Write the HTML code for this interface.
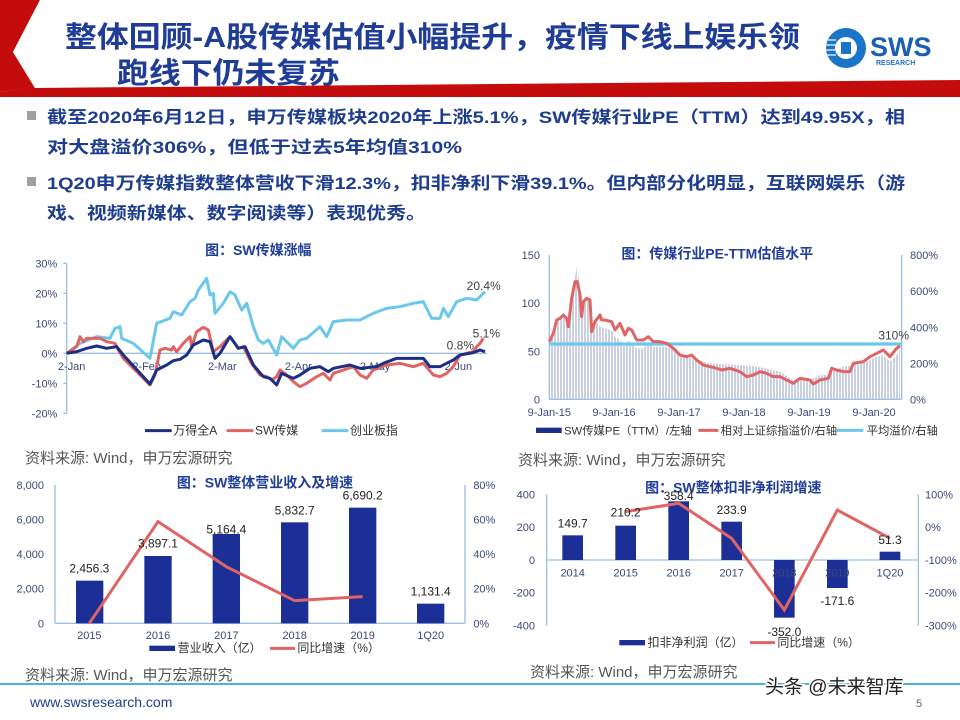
<!DOCTYPE html>
<html><head><meta charset="utf-8"><style>
html,body{margin:0;padding:0;background:#fff;}
svg{display:block;font-family:"Liberation Sans","Noto Sans CJK SC",sans-serif;}
</style></head><body>
<svg width="960" height="720" viewBox="0 0 960 720" xmlns="http://www.w3.org/2000/svg">
<defs>
<pattern id="bars" width="9" height="10" patternUnits="userSpaceOnUse"><rect x="0" y="0" width="6" height="10" fill="#c9d0e2"/></pattern>
</defs>
<!-- header -->
<polygon points="0,0 40,0 13,52 35,88 0,92" fill="#c40c0c"/>
<polygon points="33,88 960,80 960,97 0,97 0,92" fill="#c40c0c"/>
<polygon points="40,0 44,0 17,52 39,88 35,88 13,52" fill="#fff"/>
<text x="65" y="47" font-size="29" font-weight="bold" fill="#1f3c96" textLength="735" lengthAdjust="spacingAndGlyphs">整体回顾-A股传媒估值小幅提升，疫情下线上娱乐领</text>
<text x="117" y="83" font-size="29" font-weight="bold" fill="#1f3c96" textLength="223" lengthAdjust="spacingAndGlyphs">跑线下仍未复苏</text>
<!-- logo -->
<circle cx="846" cy="48" r="20" fill="#1a74c8"/>
<circle cx="846" cy="48" r="11" fill="#fff"/>
<g stroke="#fff" stroke-width="1.2"><line x1="826" y1="40" x2="836" y2="40"/><line x1="826" y1="45" x2="836" y2="45"/><line x1="826" y1="50" x2="836" y2="50"/><line x1="826" y1="55" x2="836" y2="55"/></g>
<rect x="841" y="42" width="10" height="12" fill="#1a74c8"/>
<text x="870" y="56" font-size="27" font-weight="bold" fill="#1a5fb4">SWS</text>
<text x="876" y="65" font-size="7" font-weight="bold" fill="#1a74c8">RESEARCH</text>
<!-- bullets -->
<rect x="27" y="111" width="9" height="9" fill="#a0a0a0"/>
<rect x="27" y="177" width="9" height="9" fill="#a0a0a0"/>
<g font-size="17" font-weight="bold" fill="#1f3d8f">
<text x="47" y="123" textLength="858" lengthAdjust="spacingAndGlyphs">截至2020年6月12日，申万传媒板块2020年上涨5.1%，SW传媒行业PE（TTM）达到49.95X，相</text>
<text x="47" y="153" textLength="415" lengthAdjust="spacingAndGlyphs">对大盘溢价306%，但低于过去5年均值310%</text>
<text x="47" y="189" textLength="858" lengthAdjust="spacingAndGlyphs">1Q20申万传媒指数整体营收下滑12.3%，扣非净利下滑39.1%。但内部分化明显，互联网娱乐（游</text>
<text x="47" y="219" textLength="379" lengthAdjust="spacingAndGlyphs">戏、视频新媒体、数字阅读等）表现优秀。</text>
</g>

<!-- chart 1 -->
<g transform="translate(0,240) scale(0.33333)" font-size="33" fill="#3a4a78">
<text x="775" y="45" font-size="42" font-weight="bold" fill="#1f3d99" text-anchor="middle">图：SW传媒涨幅</text>
<line x1="200" y1="70" x2="200" y2="520" stroke="#9cc0e0" stroke-width="4"/>
<g stroke="#9cc0e0" stroke-width="4"><line x1="190" y1="70" x2="200" y2="70"/><line x1="190" y1="160" x2="200" y2="160"/><line x1="190" y1="250" x2="200" y2="250"/><line x1="190" y1="340" x2="200" y2="340"/><line x1="190" y1="430" x2="200" y2="430"/><line x1="190" y1="520" x2="200" y2="520"/></g>
<line x1="200" y1="340" x2="1460" y2="340" stroke="#9cc0e0" stroke-width="4"/>
<g text-anchor="end"><text x="172" y="82">30%</text><text x="172" y="172">20%</text><text x="172" y="262">10%</text><text x="172" y="352">0%</text><text x="172" y="442">-10%</text><text x="172" y="532">-20%</text></g>
<g text-anchor="middle"><text x="215" y="390">2-Jan</text><text x="440" y="390">2-Feb</text><text x="667" y="390">2-Mar</text><text x="895" y="390">2-Apr</text><text x="1125" y="390">2-May</text><text x="1375" y="390">2-Jun</text></g>
<polyline fill="none" stroke="#6cc8ea" stroke-width="9" stroke-linejoin="round" points="200,340 240,310 290,290 330,295 345,265 360,260 365,295 400,310 450,355 470,250 510,235 520,215 545,225 570,185 585,175 595,150 620,115 630,165 640,160 645,220 670,190 690,155 705,165 725,210 740,190 760,260 775,300 790,310 805,300 830,345 845,290 880,325 900,300 920,295 960,260 980,290 1000,245 1040,240 1080,240 1120,220 1160,205 1200,200 1240,190 1270,185 1295,235 1320,235 1330,205 1345,230 1370,185 1400,175 1430,180 1450,160 1455,155"/>
<polyline fill="none" stroke="#e06464" stroke-width="9" stroke-linejoin="round" points="200,340 230,320 240,290 250,305 260,295 300,295 320,305 345,310 355,330 370,355 450,435 465,405 480,330 495,325 515,330 520,320 530,335 550,310 570,290 575,320 590,275 610,262 625,270 640,335 660,320 690,290 715,325 730,320 755,370 780,405 800,410 815,420 830,410 840,390 860,405 880,425 900,440 920,430 950,410 970,400 990,420 1000,400 1030,390 1060,380 1080,405 1100,415 1120,390 1160,375 1200,370 1240,380 1270,370 1300,405 1320,410 1340,400 1360,380 1380,345 1400,340 1420,335 1430,320 1440,310 1450,295"/>
<polyline fill="none" stroke="#1c2f86" stroke-width="9" stroke-linejoin="round" points="200,340 230,335 245,330 260,325 290,318 320,325 350,320 370,345 450,432 470,390 500,375 520,362 540,358 560,345 580,315 610,300 630,305 645,355 660,340 690,290 715,325 735,320 760,375 790,410 810,415 830,435 845,400 880,415 900,405 930,385 960,380 985,395 1000,385 1050,375 1080,385 1130,380 1150,370 1190,355 1230,355 1270,355 1290,380 1320,380 1340,370 1360,360 1380,345 1420,338 1440,330 1455,335"/>
<text x="1400" y="150" font-size="36" fill="#404040">20.4%</text>
<text x="1418" y="292" font-size="36" fill="#404040">5.1%</text>
<text x="1340" y="328" font-size="36" fill="#404040">0.8%</text>
<line x1="435" y1="572" x2="515" y2="572" stroke="#1c2f86" stroke-width="9"/><text x="520" y="584" font-size="36" fill="#333">万得全A</text>
<line x1="680" y1="572" x2="760" y2="572" stroke="#e06464" stroke-width="9"/><text x="765" y="584" font-size="36" fill="#333">SW传媒</text>
<line x1="965" y1="572" x2="1045" y2="572" stroke="#6cc8ea" stroke-width="9"/><text x="1050" y="584" font-size="36" fill="#333">创业板指</text>
</g>
<text x="25" y="463" font-size="15" fill="#555">资料来源: Wind，申万宏源研究</text>

<!-- chart 2 -->
<g transform="translate(500,240) scale(0.33333)" font-size="33" fill="#3a4a78">
<text x="652" y="55" font-size="42" font-weight="bold" fill="#1f3d99" text-anchor="middle">图：传媒行业PE-TTM估值水平</text>
<polygon fill="url(#bars)" points="150,478 150,300 160,270 170,250 190,230 200,230 205,245 215,160 225,110 232,75 240,150 245,220 250,180 260,170 270,180 275,250 285,240 300,260 315,265 335,270 345,290 360,300 375,315 385,300 410,325 430,325 445,310 460,320 500,320 520,330 540,345 560,350 590,360 630,370 665,372 720,375 760,378 800,385 840,395 880,420 930,420 960,405 985,405 1000,390 1030,380 1060,375 1090,370 1130,350 1150,345 1170,365 1190,345 1200,330 1200,478"/>
<line x1="148" y1="45" x2="148" y2="478" stroke="#9cc0e0" stroke-width="4"/>
<line x1="1205" y1="45" x2="1205" y2="478" stroke="#9cc0e0" stroke-width="4"/>
<line x1="148" y1="478" x2="1205" y2="478" stroke="#9cc0e0" stroke-width="4"/>
<g text-anchor="end"><text x="120" y="57">150</text><text x="120" y="201">100</text><text x="120" y="346">50</text><text x="120" y="490">0</text></g>
<g><text x="1230" y="57">800%</text><text x="1230" y="165">600%</text><text x="1230" y="274">400%</text><text x="1230" y="382">200%</text><text x="1230" y="490">0%</text></g>
<g text-anchor="middle"><text x="148" y="528">9-Jan-15</text><text x="342" y="528">9-Jan-16</text><text x="537" y="528">9-Jan-17</text><text x="732" y="528">9-Jan-18</text><text x="927" y="528">9-Jan-19</text><text x="1122" y="528">9-Jan-20</text></g>
<line x1="148" y1="312" x2="1205" y2="312" stroke="#6cc8ea" stroke-width="10"/>
<polyline fill="none" stroke="#e06464" stroke-width="9" stroke-linejoin="round" points="148,305 160,280 170,240 180,235 190,225 200,235 205,260 215,175 225,125 232,125 240,165 245,230 250,185 260,175 270,180 275,275 285,245 300,225 305,240 315,240 335,245 345,270 360,250 375,285 385,265 395,270 410,300 430,300 445,290 460,305 480,305 500,310 520,325 540,345 560,350 575,345 590,360 610,375 630,380 650,385 665,390 690,385 720,395 740,410 760,405 780,395 800,400 820,410 840,410 860,420 880,430 900,415 930,420 940,432 960,420 985,415 995,385 1010,390 1030,395 1050,395 1060,370 1090,365 1110,350 1130,340 1150,330 1170,350 1190,325 1200,318"/>
<text x="1135" y="298" font-size="36" fill="#404040">310%</text>
<rect x="108" y="563" width="77" height="16" fill="#1c2f86"/><text x="192" y="583" font-size="34" fill="#333">SW传媒PE（TTM）/左轴</text>
<line x1="595" y1="571" x2="655" y2="571" stroke="#e06464" stroke-width="9"/><text x="662" y="583" font-size="34" fill="#333">相对上证综指溢价/右轴</text>
<line x1="1010" y1="571" x2="1090" y2="571" stroke="#6cc8ea" stroke-width="9"/><text x="1100" y="583" font-size="34" fill="#333">平均溢价/右轴</text>
</g>
<text x="518" y="465" font-size="15" fill="#555">资料来源: Wind，申万宏源研究</text>

<!-- chart 3 -->
<g transform="translate(0,470) scale(0.33333)" font-size="33" fill="#3a4a78">
<text x="795" y="52" font-size="42" font-weight="bold" fill="#1f3d99" text-anchor="middle">图：SW整体营业收入及增速</text>
<line x1="165" y1="45" x2="165" y2="460" stroke="#9cc0e0" stroke-width="4"/>
<line x1="1395" y1="45" x2="1395" y2="460" stroke="#9cc0e0" stroke-width="4"/>
<line x1="165" y1="460" x2="1395" y2="460" stroke="#9cc0e0" stroke-width="4"/>
<g text-anchor="end"><text x="132" y="57">8,000</text><text x="132" y="160">6,000</text><text x="132" y="264">4,000</text><text x="132" y="368">2,000</text><text x="132" y="472">0</text></g>
<g><text x="1420" y="57">80%</text><text x="1420" y="160">60%</text><text x="1420" y="264">40%</text><text x="1420" y="368">20%</text><text x="1420" y="472">0%</text></g>
<g fill="#1c2f96"><rect x="228" y="332" width="82" height="128"/><rect x="433" y="258" width="82" height="202"/><rect x="638" y="192" width="82" height="268"/><rect x="843" y="157" width="82" height="303"/><rect x="1047" y="113" width="82" height="347"/><rect x="1251" y="401" width="82" height="59"/></g>
<polyline fill="none" stroke="#e06464" stroke-width="9" points="268,460 474,155 679,290 884,392 1088,380"/>
<g text-anchor="middle" font-size="36" fill="#222"><text x="268" y="307">2,456.3</text><text x="474" y="233">3,897.1</text><text x="679" y="190">5,164.4</text><text x="884" y="133">5,832.7</text><text x="1088" y="88">6,690.2</text><text x="1292" y="377">1,131.4</text></g>
<g text-anchor="middle"><text x="268" y="507">2015</text><text x="474" y="507">2016</text><text x="679" y="507">2017</text><text x="884" y="507">2018</text><text x="1088" y="507">2019</text><text x="1292" y="507">1Q20</text></g>
<rect x="448" y="527" width="77" height="16" fill="#1c2f96"/><text x="533" y="546" font-size="36" fill="#333">营业收入（亿）</text>
<line x1="810" y1="535" x2="885" y2="535" stroke="#e06464" stroke-width="9"/><text x="892" y="546" font-size="36" fill="#333">同比增速（%）</text>
</g>
<text x="25" y="680" font-size="15" fill="#555">资料来源: Wind，申万宏源研究</text>

<!-- chart 4 -->
<g transform="translate(500,470) scale(0.33333)" font-size="33" fill="#3a4a78">
<text x="700" y="68" font-size="42" font-weight="bold" fill="#1f3d99" text-anchor="middle">图：SW整体扣非净利润增速</text>
<line x1="140" y1="73" x2="140" y2="467" stroke="#9cc0e0" stroke-width="4"/>
<line x1="1255" y1="73" x2="1255" y2="467" stroke="#9cc0e0" stroke-width="4"/>
<line x1="140" y1="270" x2="1255" y2="270" stroke="#9cc0e0" stroke-width="4"/>
<g text-anchor="end"><text x="105" y="85">400</text><text x="105" y="183">200</text><text x="105" y="282">0</text><text x="105" y="380">-200</text><text x="105" y="479">-400</text></g>
<g><text x="1275" y="85">100%</text><text x="1275" y="183">0%</text><text x="1275" y="282">-100%</text><text x="1275" y="380">-200%</text><text x="1275" y="479">-300%</text></g>
<g fill="#1c2f96"><rect x="187" y="196" width="62" height="74"/><rect x="346" y="167" width="62" height="103"/><rect x="505" y="94" width="62" height="176"/><rect x="664" y="155" width="62" height="115"/><rect x="822" y="270" width="62" height="173"/><rect x="981" y="270" width="62" height="84"/><rect x="1139" y="245" width="62" height="25"/></g>
<g text-anchor="middle"><text x="218" y="320">2014</text><text x="377" y="320">2015</text><text x="536" y="320">2016</text><text x="695" y="320">2017</text><text x="853" y="320">2018</text><text x="1012" y="320">2019</text><text x="1170" y="320">1Q20</text></g>
<polyline fill="none" stroke="#e06464" stroke-width="9" points="377,125 536,100 695,205 853,420 1012,120 1170,205"/>
<g text-anchor="middle" font-size="36" fill="#222"><text x="218" y="172">149.7</text><text x="377" y="140">210.2</text><text x="536" y="90">358.4</text><text x="695" y="132">233.9</text><text x="853" y="498">-352.0</text><text x="1012" y="405">-171.6</text><text x="1170" y="222">51.3</text></g>
<rect x="358" y="510" width="77" height="16" fill="#1c2f96"/><text x="443" y="530" font-size="36" fill="#333">扣非净利润（亿）</text>
<line x1="750" y1="518" x2="825" y2="518" stroke="#e06464" stroke-width="9"/><text x="832" y="530" font-size="36" fill="#333">同比增速（%）</text>
</g>
<text x="530" y="677" font-size="15" fill="#555">资料来源: Wind，申万宏源研究</text>

<!-- footer -->
<line x1="0" y1="684" x2="960" y2="684" stroke="#4ab4d8" stroke-width="2"/>
<text x="30" y="707" font-size="14" fill="#1f3d8f">www.swsresearch.com</text>
<text x="916" y="707" font-size="11" fill="#666">5</text>
<text x="765" y="693" font-size="19" fill="#222" stroke="#fff" stroke-width="3" paint-order="stroke">头条 @未来智库</text>
</svg>
</body></html>
